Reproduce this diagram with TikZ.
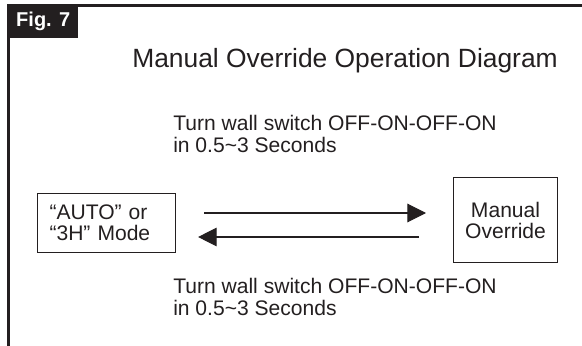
\documentclass[tikz,border=0pt]{standalone}
\usepackage{fontspec}
\setmainfont{Liberation Sans}
\usetikzlibrary{positioning,arrows.meta}
\definecolor{figink}{RGB}{35,31,32}
\tikzset{
  frameline/.style={draw=figink, line width=2pt},
  figtab/.style={fill=figink, text=white, inner sep=0pt, anchor=north west,
    minimum width=52.5pt, minimum height=24.75pt, font=\fontsize{15}{15}\bfseries},
  heading/.style={text=figink, inner sep=0pt, font=\fontsize{19.8}{22}\selectfont},
  note/.style={text=figink, inner sep=0pt, align=left, font=\fontsize{15.8}{16.5}\selectfont},
  modebox/.style={draw=figink, line width=0.8pt, text=figink, anchor=north west,
    font=\fontsize{15.8}{15.75}\selectfont},
  flow/.style={draw=figink, line width=0.8pt, -{Triangle[length=14pt,width=14pt]}}
}

\begin{document}
\begin{tikzpicture}[x=0.75pt,y=-0.75pt]
  \useasboundingbox (0,0) rectangle (582,346);

  % frame and tab
  \draw [frameline] (582,5.3) -- (8.7,5.3) -- (8.7,346);
  \node [figtab] (fig) at (8,4.5) {Fig. 7};

  \node [heading, anchor=base west] (title) at (132,68) {Manual Override Operation Diagram};

  % base anchor sits on the last line
  \node [note, anchor=base west] (upper) at (173,152) {Turn wall switch OFF-ON-OFF-ON\\in 0.5\textasciitilde3 Seconds};

  \node [modebox, align=left, text width=85.5pt, inner xsep=9pt,
    minimum height=44.25pt] (auto) at (37,193) {“AUTO” or\\“3H” Mode};
  \node [modebox, align=center, minimum width=78pt, minimum height=63.75pt] (manual)
    at (453,177) {Manual\\Override};

  \draw [flow, shorten <=21pt, shorten >=20.25pt] (auto.east |- 0,213) -- (manual.west |- 0,213);
  \draw [flow, shorten <=25.5pt, shorten >=16.5pt] (manual.west |- 0,237) -- (auto.east |- 0,237);

  \node [note, anchor=base west] (lower) at (173,315) {Turn wall switch OFF-ON-OFF-ON\\in 0.5\textasciitilde3 Seconds};
\end{tikzpicture}
\end{document}
